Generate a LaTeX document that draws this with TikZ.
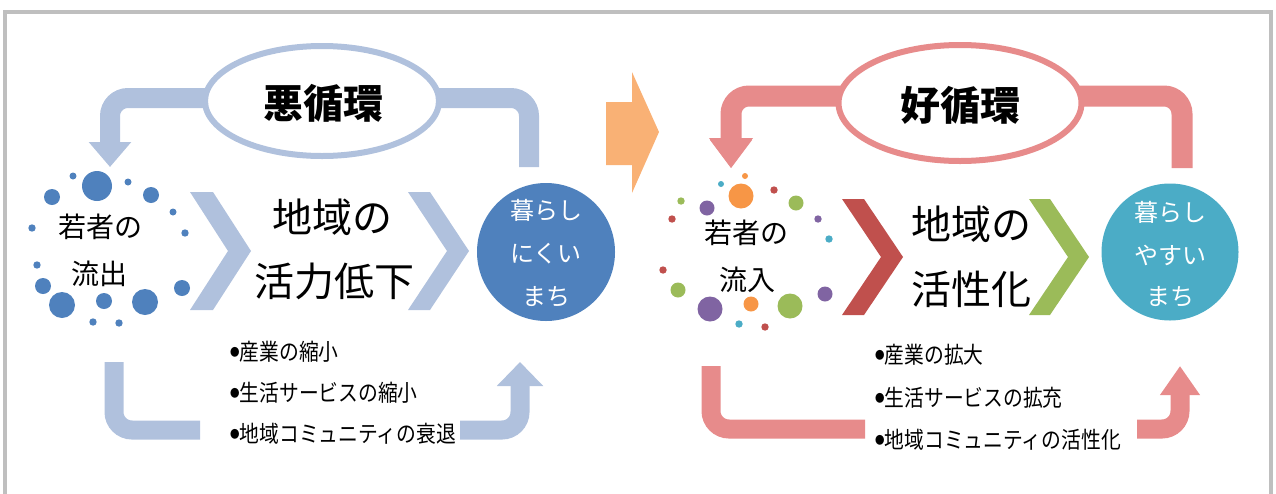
\documentclass[tikz,border=0pt]{standalone}
\usepackage{fontspec}
\setmainfont{Noto Sans CJK JP}
\newfontfamily\cjk{Noto Sans CJK JP}
\newfontfamily\cjkn[FakeStretch=0.86]{Noto Sans CJK JP}
\usetikzlibrary{arrows.meta,shapes.geometric}
\definecolor{bandblue}{RGB}{176,193,221}
\definecolor{bandred}{RGB}{231,139,139}
\definecolor{orangearr}{RGB}{249,177,117}
\definecolor{framegray}{RGB}{191,191,191}
\definecolor{oblue}{RGB}{79,129,189}
\definecolor{ocyan}{RGB}{75,172,198}
\definecolor{ored}{RGB}{192,80,77}
\definecolor{ogreen}{RGB}{155,187,89}
\definecolor{opurple}{RGB}{128,100,162}
\definecolor{oorange}{RGB}{247,150,70}
\newcommand{\blt}{\raisebox{4pt}{\fontsize{11}{11}\selectfont ●}}
\begin{document}
\begin{tikzpicture}[x=1pt,y=-1pt,
  band/.style={line width=20pt, rounded corners=18pt},
  tipstyle/.style={-{Triangle[width=41pt,length=25pt]}},
  titletext/.style={font=\cjk\bfseries\fontsize{40}{44}\selectfont, inner sep=0pt},
  bigtext/.style={font=\cjk\fontsize{40}{44}\selectfont, inner sep=0pt},
  midtext/.style={font=\cjk\fontsize{28}{32}\selectfont, inner sep=0pt},
  circtext/.style={font=\cjk\fontsize{24}{26}\selectfont, text=white, inner sep=0pt},
  bullettext/.style={font=\cjkn\fontsize{23}{26}\selectfont, inner sep=0pt, anchor=west},
  dot/.style={circle, inner sep=0pt, draw=none},
  town/.style={circle, inner sep=0pt, minimum size=138pt, draw=none},
  loopell/.style={ellipse, line width=6pt, fill=white, inner sep=0pt}
]
\useasboundingbox (0,0) rectangle (1276,493);
% frame
\draw[line width=4pt, framegray] (5,510) -- (5,12) -- (1271,12) -- (1271,510);

% ================= LEFT: vicious circle =================
\coordinate (lc) at (322,98);
\coordinate (ltl) at (110,98);
\coordinate (ltip) at (110,167);
\coordinate (ltr) at (529,98);
\coordinate (ltrend) at (529,167);
\draw[band, bandblue, tipstyle] (lc) -- (ltl) -- (ltip);
\draw[band, bandblue] (lc) -- (ltr) -- (ltrend);
\node[loopell, draw=bandblue, minimum width=234pt, minimum height=110pt] (e1) at (322,101) {};
\node[titletext] (t1) at (323,103) {悪循環};

% dots (outflow)
\foreach \x/\y/\r [count=\i] in {97/186/15, 73/176/3.5, 128/182/3.5, 52/197/8, 151/195/8, 173/212/3.5, 185/233/3.7, 32/228/3.7, 37/265/3.7, 43/286/8, 62/305/13, 104/301/8, 145/302/13, 182/288/8, 93/322/3.7, 119/323/3.7}
  \node[dot, fill=oblue, minimum size=2*\r pt] (ld\i) at (\x,\y) {};
\node[midtext] (y1) at (100,227) {若者の};
\node[midtext] (y2) at (99,274) {流出};

% chevrons
\fill[bandblue] (190,192) -- (213,192) -- (251,251) -- (213,310) -- (190,310) -- (228,251) -- cycle;
\fill[bandblue] (408,192) -- (430,192) -- (469,251) -- (430,310) -- (408,310) -- (447,251) -- cycle;
\node[bigtext] (c1) at (332,217) {地域の};
\node[bigtext] (c2) at (334,281) {活力低下};

% town circle
\node[town, fill=oblue] (town1) at (546,252) {};
\node[circtext] (k1) at (546,210) {暮らし};
\node[circtext] (k2) at (546,254) {にくい};
\node[circtext] (k3) at (546,297) {まち};

% bottom bands
\coordinate (lbs) at (114,362);
\coordinate (lbc) at (114,430);
\coordinate (lbe) at (200,430);
\draw[band, bandblue, line width=19pt] (lbs) -- (lbc) -- (lbe);
\coordinate (lrs) at (460,430);
\coordinate (lrc) at (520,430);
\coordinate (lrt) at (520,362);
\draw[band, bandblue, line width=19pt, -{Triangle[width=45pt,length=24pt]}] (lrs) -- (lrc) -- (lrt);

\node[bullettext] (b1) at (230,352) {\blt 産業の縮小};
\node[bullettext] (b2) at (230,393) {\blt 生活サービスの縮小};
\node[bullettext] (b3) at (230,434) {\blt 地域コミュニティの衰退};

% ================= middle orange arrow =================
\fill[orangearr] (606,102) -- (632,102) -- (632,72) -- (659,132) -- (632,193) -- (632,165) -- (606,165) -- cycle;

% ================= RIGHT: virtuous circle =================
\coordinate (rc) at (960,96);
\coordinate (rtl) at (731,96);
\coordinate (rtip) at (731,168);
\coordinate (rtr) at (1182,96);
\coordinate (rtrend) at (1182,168);
\draw[band, bandred, line width=21pt, -{Triangle[width=42pt,length=30pt]}] (rc) -- (rtl) -- (rtip);
\draw[band, bandred, line width=21pt] (rc) -- (rtr) -- (rtrend);
\node[loopell, draw=bandred, minimum width=243pt, minimum height=116pt] (e2) at (960,103) {};
\node[titletext] (t2) at (960,105) {好循環};

% dots (inflow)
\foreach \x/\y/\r/\c [count=\i] in {745/176/3/oorange, 721/184/3/ocyan, 741/196/12.5/oorange, 774/190/3.7/ored, 681/201/3.7/ogreen, 707/208/7.5/opurple, 796/203/7.5/ogreen, 672/219/3.7/ored, 818/219/3.7/opurple, 829/239/3.7/ocyan, 663/270/3.7/ored, 678/290/7.5/ogreen, 710/309/12.5/opurple, 751/304/7.5/oorange, 790/306/12.5/ogreen, 825/294/7.5/opurple, 739/324/3.7/ocyan, 765/327/3.7/ored}
  \node[dot, fill=\c, minimum size=2*\r pt] (rd\i) at (\x,\y) {};
% arrow tip over the top dots
\fill[bandred] (710,140) -- (752,140) -- (731,168) -- cycle;
\node[midtext] (y3) at (746,233) {若者の};
\node[midtext] (y4) at (747,280) {流入};

% chevrons
\fill[ored] (842,199) -- (864,199) -- (903,257) -- (864,315) -- (842,315) -- (881,257) -- cycle;
\fill[ogreen] (1029,199) -- (1050,199) -- (1089,257) -- (1050,315) -- (1029,315) -- (1068,257) -- cycle;
\node[bigtext] (c3) at (971,224) {地域の};
\node[bigtext] (c4) at (971,289) {活性化};

% town circle
\node[town, fill=ocyan, minimum size=137pt] (town2) at (1170,252) {};
\node[circtext] (k4) at (1170,212) {暮らし};
\node[circtext] (k5) at (1170,255) {やすい};
\node[circtext] (k6) at (1170,297) {まち};

% bottom bands
\coordinate (rbs) at (711,366);
\coordinate (rbc) at (711,429);
\coordinate (rbe) at (865,429);
\draw[band, bandred, line width=19pt] (rbs) -- (rbc) -- (rbe);
\coordinate (rrs) at (1137,429);
\coordinate (rrc) at (1180,429);
\coordinate (rrt) at (1180,366);
\draw[band, bandred, line width=19pt, -{Triangle[width=38pt,length=29pt]}] (rrs) -- (rrc) -- (rrt);

\node[bullettext] (b4) at (875,355) {\blt 産業の拡大};
\node[bullettext] (b5) at (875,398) {\blt 生活サービスの拡充};
\node[bullettext] (b6) at (875,440) {\blt 地域コミュニティの活性化};
\end{tikzpicture}
\end{document}
